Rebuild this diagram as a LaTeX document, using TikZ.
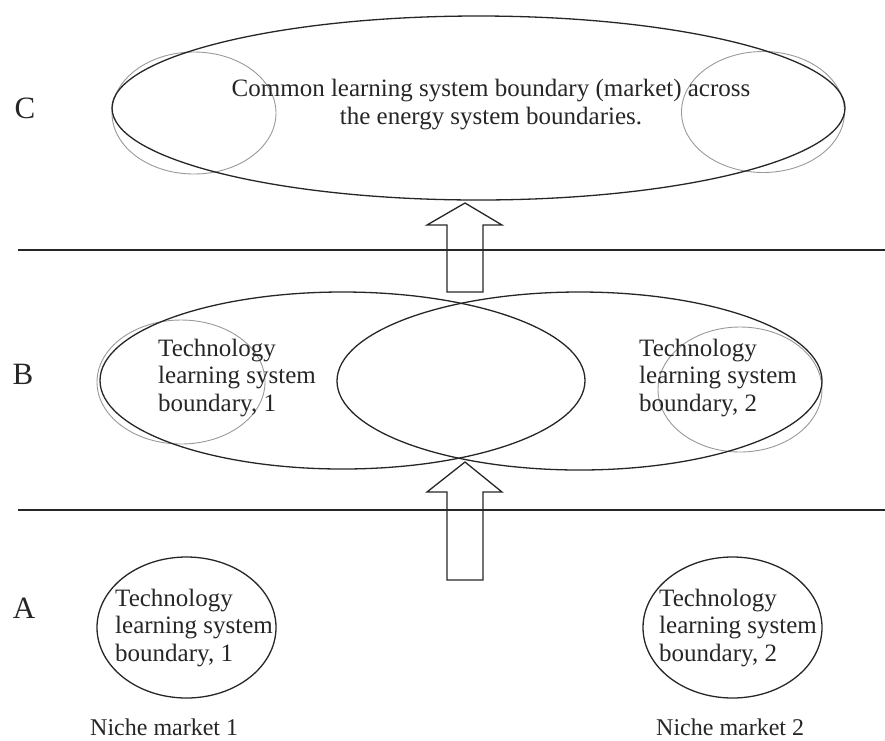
\documentclass[tikz,border=0pt]{standalone}
\usepackage{fontspec}
\setmainfont{Liberation Serif}
\usetikzlibrary{shapes.geometric}
\begin{document}
\begin{tikzpicture}[x=1pt,y=-1pt,
  bound/.style={draw=black!85, line width=1.3pt, ellipse, inner sep=0pt, outer sep=0pt},
  faint/.style={draw=black!40, line width=0.9pt, ellipse, inner sep=0pt, outer sep=0pt},
  txt/.style={font=\fontsize{25}{27.5}\selectfont, text=black!85, inner sep=0pt, align=left},
  niche/.style={font=\fontsize{24}{27}\selectfont, text=black!85, inner sep=0pt},
  lvl/.style={font=\fontsize{31}{33}\selectfont, text=black!85, inner sep=0pt},
  sep/.style={draw=black!85, line width=1.3pt},
  blockarrow/.style={draw=black!85, line width=1.3pt, line join=miter}
]
\useasboundingbox (0,0) rectangle (885,740);

% separators
\coordinate (s1a) at (18,250); \coordinate (s1b) at (885,250);
\coordinate (s2a) at (18,510); \coordinate (s2b) at (885,510);
\draw[sep] (s1a) -- (s1b);
\draw[sep] (s2a) -- (s2b);

% level labels
\node[lvl] (lc) at (25,108) {C};
\node[lvl] (lb) at (23,374) {B};
\node[lvl] (la) at (24,608) {A};

% ---- C ----
\node[faint, minimum width=164, minimum height=122] (cgl) at (194,113) {};
\node[faint, minimum width=163, minimum height=121] (cgr) at (763,112) {};
\node[bound, minimum width=733, minimum height=184] (C) at (478.5,108) {};
\node[txt, align=center] (ctext) at (491,104.5) {Common learning system boundary (market) across\\the energy system boundaries.};

% ---- B ----
\node[faint, minimum width=168, minimum height=124] (bgl) at (181,382) {};
\node[faint, minimum width=164, minimum height=125] (bgr) at (740,389.5) {};
\node[bound, minimum width=485, minimum height=177] (bl) at (342.5,380.5) {};
\node[bound, minimum width=485, minimum height=178] (br) at (579.5,381) {};
\node[txt, anchor=west] (btl) at (158,378) {Technology\\learning system\\boundary, 1};
\node[txt, anchor=west] (btr) at (639,378) {Technology\\learning system\\boundary, 2};

% ---- A ----
\node[bound, minimum width=179, minimum height=141] (al) at (186.5,627.5) {};
\node[bound, minimum width=179, minimum height=141] (ar) at (732.5,627.5) {};
\node[txt, anchor=west] (atl) at (115,628) {Technology\\learning system\\boundary, 1};
\node[txt, anchor=west] (atr) at (659,628) {Technology\\learning system\\boundary, 2};
\node[niche, anchor=base west] (n1) at (90,735) {Niche market 1};
\node[niche, anchor=base west] (n2) at (656,735) {Niche market 2};

% block arrows
\draw[blockarrow] (447,292) -- (447,225) -- (427,225) -- (465,203) -- (502,225) -- (483,225) -- (483,292) -- cycle;
\draw[blockarrow] (447,580) -- (447,492) -- (427,492) -- (465,462) -- (502,492) -- (483,492) -- (483,580) -- cycle;
\end{tikzpicture}
\end{document}
